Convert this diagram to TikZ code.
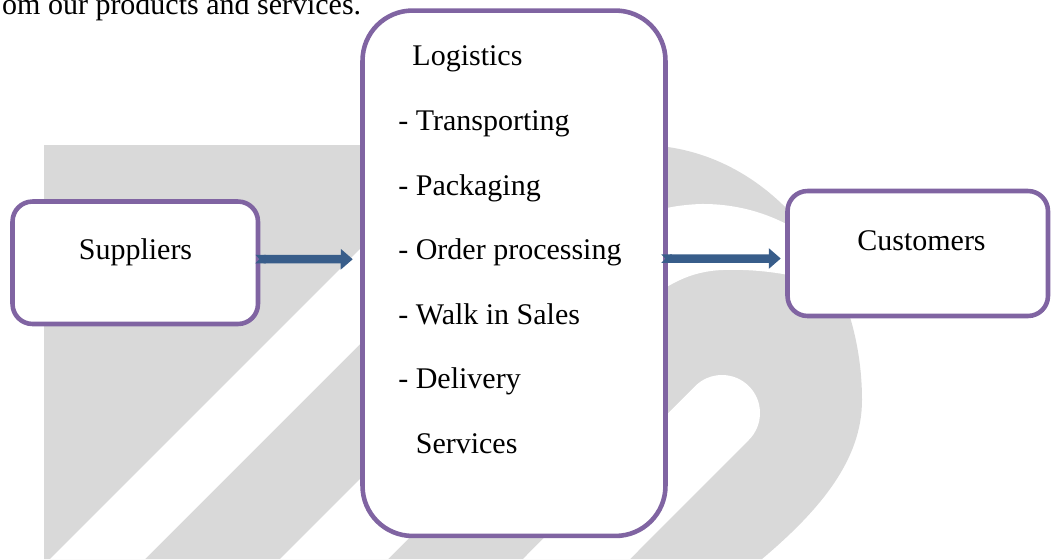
\documentclass[tikz,border=0pt]{standalone}
\usepackage{fontspec}
\setmainfont{Liberation Serif}
\usepackage{tikz}
\usetikzlibrary{arrows.meta,positioning}
\definecolor{boxpurple}{RGB}{128,100,162}
\definecolor{flowblue}{RGB}{56,93,138}
\definecolor{markgray}{RGB}{217,217,217}
\tikzset{
  % 全局字体设置(对所有 node 生效)
  every node/.append style={font=\fontsize{17.07}{20}\selectfont},
  % 基础圆角框
  box/.style={
    draw=boxpurple,
    line width=2.6pt,
    rounded corners=0.4cm,
    fill=white,
    inner sep=0pt
  },
  % 中间的大框
  bigbox/.style={box, rounded corners=1cm},
  % 列表文字
  steps/.style={align=left, inner sep=0pt, font=\fontsize{17.07}{36.8}\selectfont},
  % 块状箭头
  flowarr/.style={
    {Triangle Cap[reversed]}-{Triangle[length=0.24cm, width=0.4cm]},
    line width=0.17cm,
    flowblue
  },
  % 背景水印
  wmark/.style={fill=markgray},
}

\begin{document}
\begin{tikzpicture}[x=0.02cm, y=-0.02cm]
        \useasboundingbox (0,0) rectangle (1052,559);
        \clip (0,0) rectangle (1052,559);

        % Watermark
        \fill[wmark] (44,559) -- (44,145) -- (640,145)
            arc[start angle=270, end angle=360, x radius=222, y radius=255]
            .. controls (862,460) and (820,510) .. (762,559) -- cycle;
        \fill[white] (50,559) -- (145,559) -- (559,145) -- (464,145) -- cycle;
        \fill[white] (280,559) -- (585,254) .. controls (620,219) and (655,206) .. (700,204)
            .. controls (770,203) and (830,240) .. (865,300)
            .. controls (830,283) and (780,268) .. (723,270)
            .. controls (690,271) and (665,285) .. (640,307) -- (388,559) -- cycle;
        \fill[white] (523,559) -- (695.13,386.13)
            arc[start angle=225, end angle=405, radius=38] -- (630,559) -- cycle;

        % Text above
        \node[anchor=base west] (intro) at (-4,14) {om our products and services.};

        % Boxes
        \node[box, minimum width=4.91cm, minimum height=2.45cm] (sup) at (135.25,262.75) {};
        \node[bigbox, minimum width=6.06cm, minimum height=10.51cm] (log) at (514,273.25) {};
        \node[box, minimum width=5.21cm, minimum height=2.5cm] (cust) at (917.75,253.5) {};

        % Labels
        \node[anchor=base] (suptext) at (135.5,259) {Suppliers};
        \node[anchor=base] (custtext) at (921.5,250) {Customers};
        \node[steps, anchor=north west] (logtext) at (398,45.5) {\hspace*{0.47em}Logistics\\- Transporting\\- Packaging\\- Order processing\\- Walk in Sales\\- Delivery\\\phantom{- }Services};

        % Arrows
        \draw[flowarr] ([shift={(-5,-3.75)}]sup.east) -- ([shift={(-7.5,-14)}]log.west);
        \draw[flowarr] ([shift={(-6.5,-14.75)}]log.east) -- ([shift={(-4.5,5)}]cust.west);
    \end{tikzpicture}
\end{document}
